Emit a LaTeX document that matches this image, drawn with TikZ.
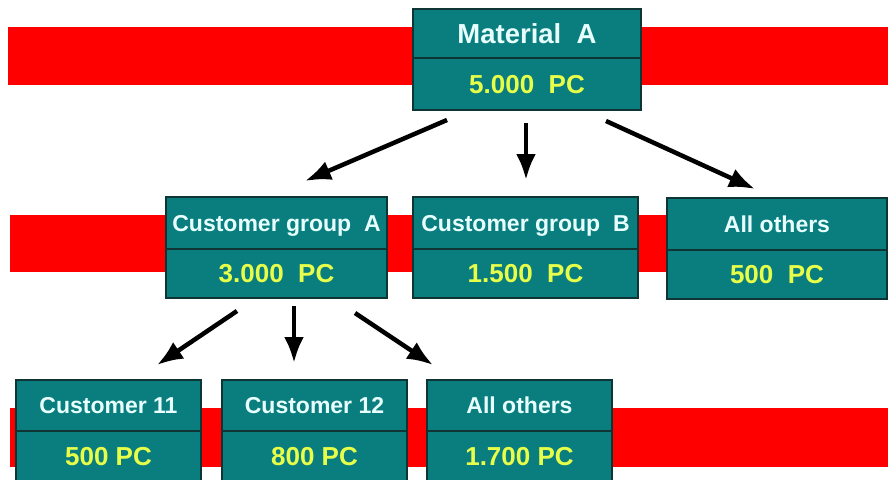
\documentclass[tikz,border=0pt]{standalone}
\usepackage{fontspec}
\setmainfont{Liberation Sans}
\usetikzlibrary{arrows.meta}
\definecolor{teal0}{HTML}{0A7E7E}
\definecolor{hdtext}{HTML}{E8FFFF}
\definecolor{valtext}{HTML}{E8FF4A}
\definecolor{edge0}{HTML}{0E3434}
\definecolor{bandred}{HTML}{FF0000}
\begin{document}
\begin{tikzpicture}[x=1pt,y=-1pt,
  band/.style={fill=bandred,draw=none},
  cell/.style={draw=edge0,line width=1.2pt,fill=teal0,inner sep=0pt,outer sep=0pt,text depth=0pt},
  hd/.style={cell,text=hdtext,text height=16.5pt,font=\bfseries\fontsize{23}{23}\selectfont},
  big/.style={text height=19.5pt,font=\bfseries\fontsize{27.5}{27.5}\selectfont},
  val/.style={cell,text=valtext,text height=18.6pt,font=\bfseries\fontsize{26}{26}\selectfont},
  arr/.style={line width=4.5pt,-{Latex[length=26pt,width=20pt]}}
]
\useasboundingbox (0,0) rectangle (888,479);
\fill[white] (0,0) rectangle (888,479);
% red bands
\fill[band] (8,27) rectangle (888,85);
\fill[band] (10,215) rectangle (888,272);
\fill[band] (10,408) rectangle (888,467);
% top
\node[hd,big,minimum width=228pt,minimum height=49pt,anchor=north west] (ma) at (413,9) {Material~~A};
\node[val,minimum width=228pt,minimum height=52pt,anchor=north] (mav) at (ma.south) {5.000~~PC};
% middle row
\node[hd,minimum width=221pt,minimum height=52pt,anchor=north west] (cga) at (166,197) {Customer group~~A};
\node[val,minimum width=221pt,minimum height=49pt,anchor=north] (cgav) at (cga.south) {3.000~~PC};
\node[hd,minimum width=225pt,minimum height=52pt,anchor=north west] (cgb) at (413,197) {Customer group~~B};
\node[val,minimum width=225pt,minimum height=49pt,anchor=north] (cgbv) at (cgb.south) {1.500~~PC};
\node[hd,minimum width=220pt,minimum height=52pt,anchor=north west] (aoa) at (667,198) {All others};
\node[val,minimum width=220pt,minimum height=49pt,anchor=north] (aoav) at (aoa.south) {500~~PC};
% bottom row
\node[hd,minimum width=185pt,minimum height=51pt,anchor=north west] (cx) at (16,380) {Customer 11};
\node[val,minimum width=185pt,minimum height=50pt,anchor=north] (cxv) at (cx.south) {500 PC};
\node[hd,minimum width=185pt,minimum height=51pt,anchor=north west] (cy) at (222,380) {Customer 12};
\node[val,minimum width=185pt,minimum height=50pt,anchor=north] (cyv) at (cy.south) {800 PC};
\node[hd,minimum width=185pt,minimum height=51pt,anchor=north west] (aob) at (427,380) {All others};
\node[val,minimum width=185pt,minimum height=50pt,anchor=north] (aobv) at (aob.south) {1.700 PC};
% arrows
\draw[arr] ([xshift=34pt,yshift=-10pt]mav.south west) -- ([xshift=139pt,yshift=16pt]cga.north west);
\draw[arr] ([xshift=113pt,yshift=-13pt]mav.south west) -- ([xshift=113pt,yshift=17pt]cgb.north west);
\draw[arr] ([xshift=193pt,yshift=-11pt]mav.south west) -- ([xshift=88pt,yshift=9pt]aoa.north west);
\draw[arr] ([xshift=71pt,yshift=-13pt]cgav.south west) -- ([xshift=141pt,yshift=15pt]cx.north west);
\draw[arr] ([xshift=128pt,yshift=-8pt]cgav.south west) -- ([xshift=72pt,yshift=17pt]cy.north west);
\draw[arr] ([xshift=189pt,yshift=-15pt]cgav.south west) -- ([xshift=6pt,yshift=15pt]aob.north west);
\end{tikzpicture}
\end{document}
